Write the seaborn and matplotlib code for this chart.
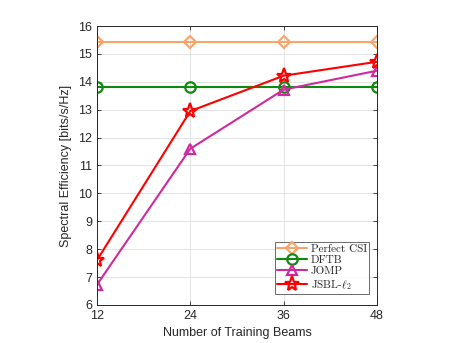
import numpy as np
import pandas as pd
import matplotlib
matplotlib.use("Agg")
import matplotlib.pyplot as plt
import seaborn as sns

beams = [12, 24, 36, 48]
perfect_csi = [15.43, 15.43, 15.43, 15.43]
dftb = [13.81, 13.81, 13.81, 13.81]
jomp = [6.72, 11.6, 13.72, 14.4]
jsbl = [7.6, 12.95, 14.22, 14.72]

methods = ["Perfect CSI", "DFTB", "JOMP", r"JSBL-$\ell_2$"]
series = [perfect_csi, dftb, jomp, jsbl]
colors = ["#F9A56A", "#0F8A0F", "#CC2A9E", "#FF0000"]
markers = ["D", "o", "^", "*"]
msizes = [6, 7.5, 7.5, 11]

df = pd.DataFrame({
    "beams": np.tile(beams, len(methods)),
    "se": np.concatenate(series),
    "method": np.repeat(methods, len(beams)),
})

sns.set_style("white")
plt.rcParams["font.family"] = ["Liberation Sans", "DejaVu Sans"]
plt.rcParams["mathtext.fontset"] = "cm"
plt.rcParams["axes.formatter.use_mathtext"] = False

fig = plt.figure(figsize=(4.57, 3.43), dpi=100)
ax = fig.add_axes([0.212, 0.111, 0.613, 0.813])

for m, c, mk, ms in zip(methods, colors, markers, msizes):
    sub = df[df["method"] == m]
    sns.lineplot(data=sub, x="beams", y="se", ax=ax, color=c, linewidth=1.5,
                 marker=mk, markersize=ms, markerfacecolor="none",
                 markeredgecolor=c, markeredgewidth=1.6, label=m)

ax.set_xlim(12, 48)
ax.set_ylim(6, 16)
ax.set_xticks(beams)
ax.set_yticks(np.arange(6, 17, 1))
ax.grid(True, color="#e3e3e3", linewidth=0.7)
ax.set_axisbelow(True)
for s in ax.spines.values():
    s.set_color("#262626")
    s.set_linewidth(0.7)
ax.tick_params(direction="in", length=3, width=0.6, labelsize=9, colors="#262626",
               top=True, right=True, bottom=True, left=True)
ax.set_xlabel("Number of Training Beams", fontsize=9, color="#262626")
ax.set_ylabel("Spectral Efficiency [bits/s/Hz]", fontsize=9, color="#262626")

leg = ax.legend(loc="lower right", bbox_to_anchor=(0.972, 0.04),
                prop={"family": ["cmr10", "DejaVu Serif"], "size": 8},
                frameon=True, fancybox=False, borderaxespad=0,
                handlelength=2.7, handletextpad=0.35, labelspacing=0.12,
                borderpad=0.2)
leg.get_frame().set_edgecolor("#262626")
leg.get_frame().set_linewidth(0.6)

fig.savefig("out.png", dpi=100)
